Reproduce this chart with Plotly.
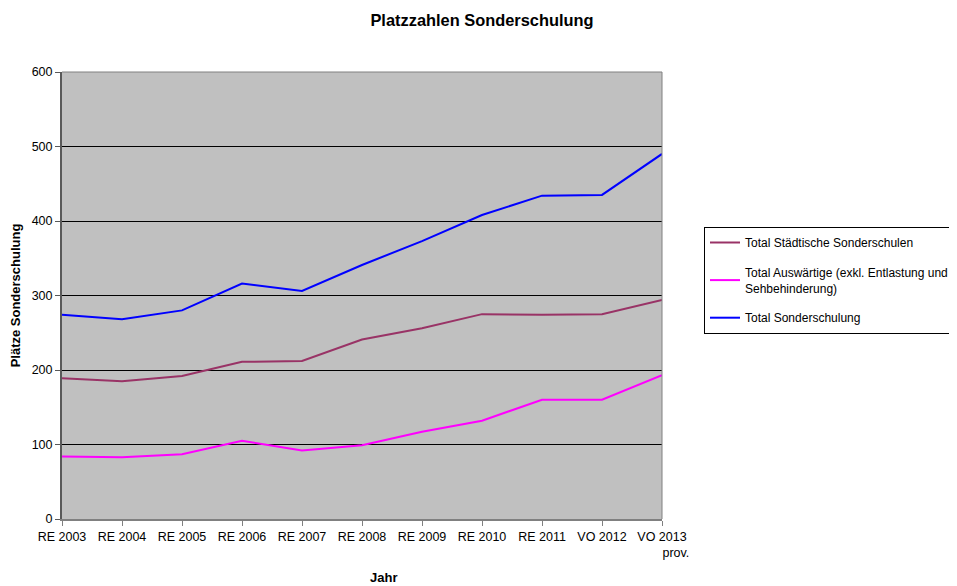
import plotly.graph_objects as go

years = ["RE 2003", "RE 2004", "RE 2005", "RE 2006", "RE 2007", "RE 2008",
         "RE 2009", "RE 2010", "RE 2011", "VO 2012", "VO 2013<br>\u00a0\u00a0\u00a0\u00a0\u00a0\u00a0\u00a0\u00a0prov."]
staedtische = [189, 185, 192, 211, 212, 241, 256, 275, 274, 275, 294]
auswaertige = [84, 83, 87, 105, 92, 99, 117, 132, 160, 160, 193]
total = [274, 268, 280, 316, 306, 341, 373, 408, 434, 435, 490]
names = ["Total Städtische Sonderschulen",
         "Total Auswärtige (exkl. Entlastung und<br>Sehbehinderung)",
         "Total Sonderschulung"]
colors = ["#993366", "#FF00FF", "#0000FF"]
series = [staedtische, auswaertige, total]
y_ticks = [0, 100, 200, 300, 400, 500, 600]

# the page body has an 8px default margin, so the figure is laid out 8px smaller
OFF = 8
W, H = 957 - OFF, 586 - OFF
L, R, T, B = 62 - OFF, 662 - OFF, 72 - OFF, 519 - OFF   # plot area in figure px
PW, PH = R - L, B - T

def px(x):
    return (x - OFF - L) / PW

def py(y):
    return (B - (y - OFF)) / PH

FONT = "Liberation Sans, Arial, sans-serif"
fig = go.Figure()
for i, (n, c, s) in enumerate(zip(names, colors, series)):
    fig.add_trace(go.Scatter(x=years, y=s, name=n, mode="lines",
                             line=dict(color=c, width=2), legendgroup=str(i)))

fig.update_layout(
    width=W, height=H,
    margin=dict(l=L, r=W - R, t=T, b=H - B, autoexpand=False),
    paper_bgcolor="white", plot_bgcolor="#C0C0C0",
    font=dict(family=FONT, size=12.5, color="black"),
    title=dict(text="<b>Platzzahlen Sonderschulung</b>", x=(482 - OFF) / W, xanchor="center",
               y=1 - (20 - OFF) / H, yanchor="middle", font=dict(size=16.4)),
    xaxis=dict(type="category", range=[0, 10], showgrid=False, automargin=False,
               showline=True, linecolor="#808080", linewidth=2,
               ticks="outside", ticklen=5, tickcolor="#808080",
               tickfont=dict(size=12.5), mirror=False),
    yaxis=dict(range=[0, 600], tickvals=y_ticks, showgrid=True, gridcolor="black",
               gridwidth=1, zeroline=False, showline=True, linecolor="#595959",
               linewidth=2, ticks="outside", ticklen=5, tickcolor="#595959",
               tickfont=dict(size=12.5), automargin=False,
               title=dict(text="<b>Plätze Sonderschulung</b>", font=dict(size=13), standoff=8)),
    legend=dict(x=px(704), xanchor="left", y=py(227), yanchor="top",
                bordercolor="black", borderwidth=1, bgcolor="white",
                font=dict(size=12), tracegroupgap=11, traceorder="grouped",
                itemwidth=30),
    showlegend=True,
)
fig.add_annotation(text="<b>Jahr</b>", xref="paper", yref="paper",
                   x=px(383), y=py(577), showarrow=False,
                   xanchor="center", yanchor="middle", font=dict(size=13))
# thin gray frame on top and right of plot area
fig.add_shape(type="line", xref="paper", yref="paper", x0=0, x1=1, y0=1, y1=1,
              line=dict(color="#808080", width=1))
fig.add_shape(type="line", xref="paper", yref="paper", x0=1, x1=1, y0=0, y1=1,
              line=dict(color="#808080", width=1))
fig.write_html("out.html")
